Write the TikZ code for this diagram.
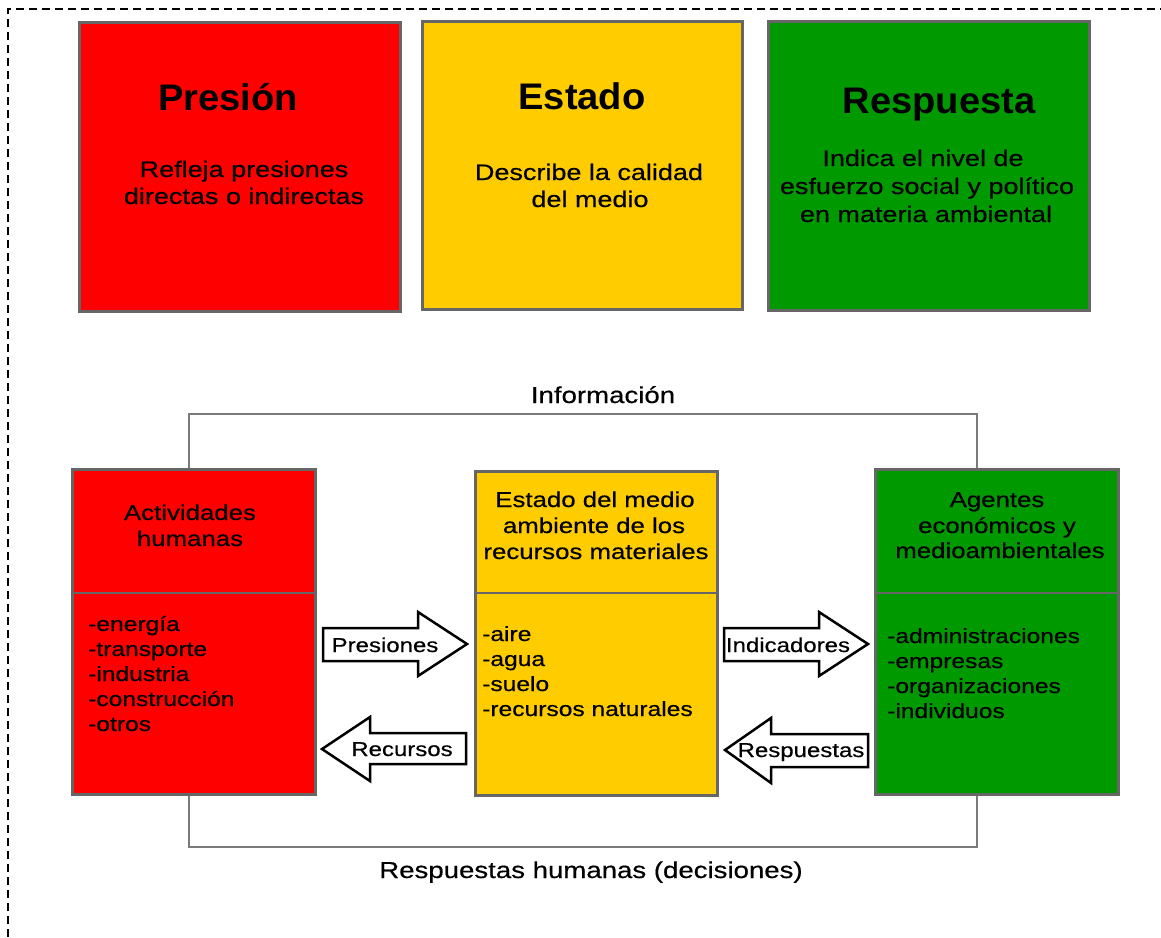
\documentclass[tikz,border=0pt]{standalone}
\usepackage{fontspec}
\setmainfont{Liberation Sans}[FakeStretch=1.2, FakeBold=0.5]
\newfontfamily\titlefont{Liberation Sans}[FakeStretch=1.03]
\definecolor{cred}{HTML}{FF0000}
\definecolor{cyel}{HTML}{FFCC00}
\definecolor{cgrn}{HTML}{009900}
\definecolor{bord}{HTML}{666666}
\definecolor{connc}{HTML}{7A7A7A}
\begin{document}
\begin{tikzpicture}[x=1pt,y=-1pt,
  box/.style={draw=bord, line width=3pt, inner sep=0pt},
  divider/.style={draw=bord, line width=1.5pt},
  conn/.style={draw=connc, line width=2.5pt},
  blockarrow/.style={draw=black, fill=white, line width=2.5pt, line join=miter},
  ttl/.style={inner sep=0pt, anchor=base, font=\titlefont\bfseries\fontsize{37}{40}\selectfont},
  txtA/.style={inner sep=0pt, anchor=base, font=\fontsize{22.5}{26}\selectfont},
  txtB/.style={inner sep=0pt, anchor=base, font=\fontsize{23}{27}\selectfont},
  txtC/.style={inner sep=0pt, anchor=base, font=\fontsize{21.5}{25}\selectfont},
  lst/.style={inner sep=0pt, anchor=base west, font=\fontsize{20.5}{24}\selectfont},
  albl/.style={inner sep=0pt, anchor=base, font=\fontsize{20}{24}\selectfont}]
\useasboundingbox (0,0) rectangle (1161,937);

% dashed frame
\draw[dash pattern=on 8pt off 5pt, line width=2.2pt] (8,937) -- (8,9) -- (1161,9);

% top boxes
\node[box, fill=cred, minimum width=321pt, minimum height=289pt] (pbox) at (239.5,166.5) {};
\node[box, fill=cyel, minimum width=320pt, minimum height=288pt] (ebox) at (582,165.5) {};
\node[box, fill=cgrn, minimum width=321pt, minimum height=289pt] (rbox) at (928.5,166) {};

\node[ttl] (t1) at (228,110) {Presión};
\node[txtA] (t1a) at (244,177) {Refleja presiones};
\node[txtA] (t1b) at (244,204) {directas o indirectas};

\node[ttl] (t2) at (582,109) {Estado};
\node[txtA] (t2a) at (589,180) {Describe la calidad};
\node[txtA] (t2b) at (590,207) {del medio};

\node[ttl] (t3) at (939,113) {Respuesta};
\node[txtA] (t3a) at (923,166) {Indica el nivel de};
\node[txtA] (t3b) at (927,194) {esfuerzo social y político};
\node[txtA] (t3c) at (926,222) {en materia ambiental};

% bottom boxes
\node[box, fill=cred, minimum width=243pt, minimum height=325pt] (abox) at (193.5,631.5) {};
\node[box, fill=cyel, minimum width=242pt, minimum height=324pt] (mbox) at (596,633) {};
\node[box, fill=cgrn, minimum width=243pt, minimum height=325pt] (gbox) at (996.5,631.5) {};

\coordinate (dv) at (0,593);
\draw[divider] (abox.west |- dv) -- (abox.east |- dv);
\draw[divider] (mbox.west |- dv) -- (mbox.east |- dv);
\draw[divider] (gbox.west |- dv) -- (gbox.east |- dv);

% connectors
\coordinate (tl) at (189,414);
\coordinate (tr) at (977,414);
\coordinate (bl) at (189,847);
\coordinate (br) at (977,847);
\draw[conn] (abox.north -| tl) -- (tl) -- (tr) -- (gbox.north -| tr);
\draw[conn] (abox.south -| bl) -- (bl) -- (br) -- (gbox.south -| br);
\node[txtB] (info) at (603,403) {Información};
\node[txtB] (resh) at (591,878) {Respuestas humanas (decisiones)};

% box texts
\node[txtC] (a1) at (190,520) {Actividades};
\node[txtC] (a2) at (190,546) {humanas};
\node[lst] (a3) at (88,631) {-energía};
\node[lst] (a4) at (88,656) {-transporte};
\node[lst] (a5) at (88,681) {-industria};
\node[lst] (a6) at (88,706) {-construcción};
\node[lst] (a7) at (88,731) {-otros};

\node[txtC] (m1) at (595,507) {Estado del medio};
\node[txtC] (m2) at (594,533) {ambiente de los};
\node[txtC] (m3) at (596,559) {recursos materiales};
\node[lst] (m4) at (482,641) {-aire};
\node[lst] (m5) at (482,666) {-agua};
\node[lst] (m6) at (482,691) {-suelo};
\node[lst] (m7) at (482,716) {-recursos naturales};

\node[txtC] (g1) at (997,507) {Agentes};
\node[txtC] (g2) at (997,533) {económicos y};
\node[txtC] (g3) at (1000,558) {medioambientales};
\node[lst] (g4) at (887,643) {-administraciones};
\node[lst] (g5) at (887,668) {-empresas};
\node[lst] (g6) at (887,693) {-organizaciones};
\node[lst] (g7) at (887,718) {-individuos};

% block arrows
\draw[blockarrow] (323,628) -- (418,628) -- (418,612) -- (467,644) -- (418,676) -- (418,661) -- (323,661) -- cycle;
\draw[blockarrow] (466,733) -- (370,733) -- (370,717) -- (322,749) -- (370,781) -- (370,764) -- (466,764) -- cycle;
\draw[blockarrow] (724,628) -- (819,628) -- (819,612) -- (868,644) -- (819,676) -- (819,661) -- (724,661) -- cycle;
\draw[blockarrow] (868,734) -- (771,734) -- (771,718) -- (725,750) -- (771,783) -- (771,767) -- (868,767) -- cycle;

\node[albl] (l1) at (385,652) {Presiones};
\node[albl] (l2) at (402,756) {Recursos};
\node[albl] (l3) at (788,652) {Indicadores};
\node[albl] (l4) at (801,757) {Respuestas};
\end{tikzpicture}
\end{document}
